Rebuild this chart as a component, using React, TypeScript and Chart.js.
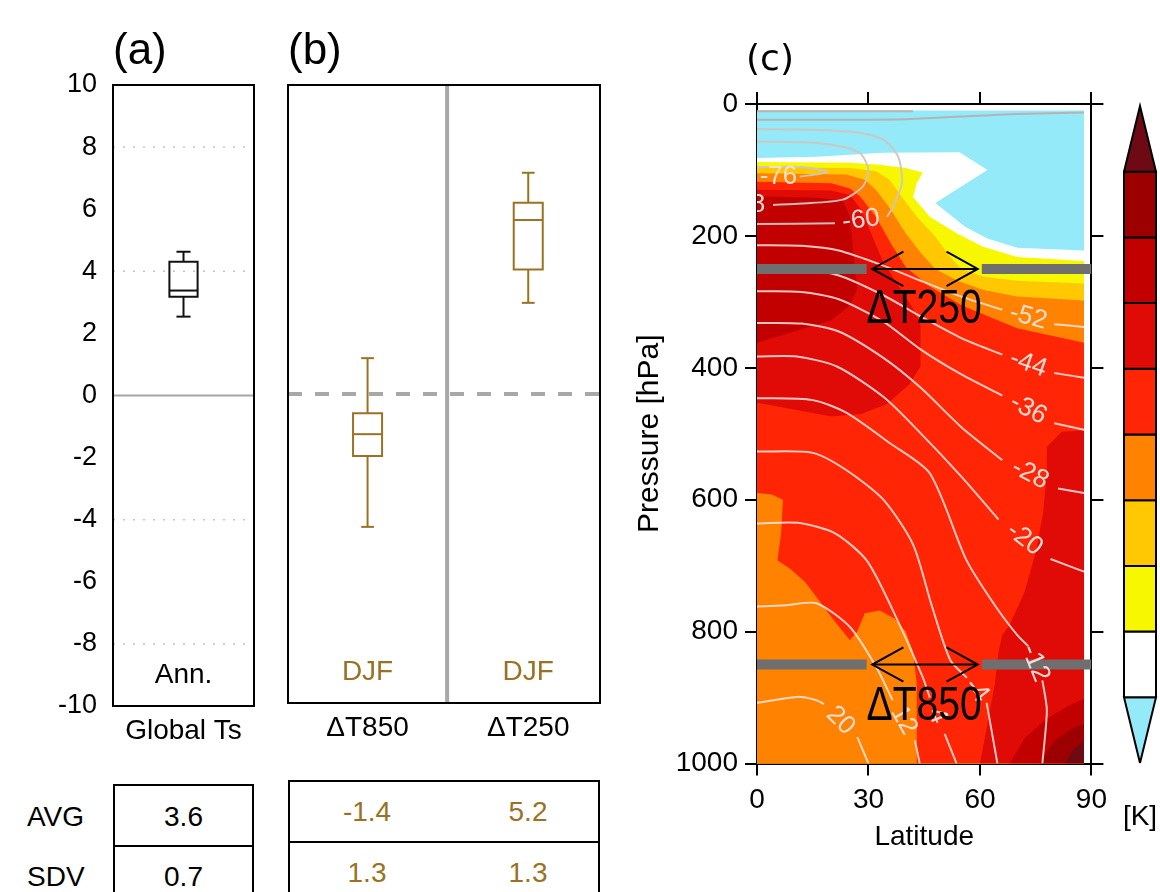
import React, { useEffect, useRef } from "react";
import { Chart, registerables } from "chart.js";

Chart.register(...registerables);

const SANS = "'Liberation Sans', Arial, Helvetica, sans-serif";
const ROUND = "'DejaVu Sans', 'Liberation Sans', sans-serif";
const BROWN = "#9a7224";

/* ---------------- Panel (a) ---------------- */
const panelACategories = ["Global Ts"];
const panelASeason = ["Ann."];
const panelAPositions = [0.5];
const panelAMin = [2.54];
const panelAQ1 = [3.18];
const panelAMedian = [3.38];
const panelAQ3 = [4.31];
const panelAMax = [4.63];
const panelADottedLevels = [8, 4, -4, -8];
const panelAZeroLevels = [0];

/* ---------------- Panel (b) ---------------- */
const panelBCategories = ["ΔT850", "ΔT250"];
const panelBSeason = ["DJF", "DJF"];
const panelBPositions = [0.51, 1.54];
const panelBDivider = [1.02];
const panelBMin = [-4.3, 2.95];
const panelBQ1 = [-2.01, 4.03];
const panelBMedian = [-1.3, 5.63];
const panelBQ3 = [-0.62, 6.19];
const panelBMax = [1.16, 7.16];
const panelBZeroLevels = [0];

const valueMin = -10;
const valueMax = 10;
const valueStep = 2;
const seasonLabelValue = -9;

/* ---------------- Tables ---------------- */
const tableRowNames = ["AVG", "SDV"];
const tableAAvg = ["3.6"];
const tableASdv = ["0.7"];
const tableBAvg = ["-1.4", "5.2"];
const tableBSdv = ["1.3", "1.3"];

/* ---------------- Panel (c): latitude-pressure section ---------------- */
const latTicksStep = 30;
const latMin = 0;
const latMax = 90;
const pressureMin = 0;
const pressureMax = 1000;
const pressureStep = 200;

// colour levels (bottom of colour bar to top)
const levelColors = [
  "#94eaf8",
  "#ffffff",
  "#f7f700",
  "#ffc800",
  "#ff8200",
  "#ff2505",
  "#e00a06",
  "#c20000",
  "#9c0000",
  "#6e0a14",
];

// filled regions, [lat, p]
const regionDomain = [[0, 10], [88, 10], [88, 1000], [0, 1000]];
const cyanBottom = [[0, 82], [16, 80], [34, 74], [54.5, 73], [62, 100], [48, 150], [56, 186], [62, 204], [70, 218], [88, 222]];
const yellowTop = [[0, 88], [25, 89], [33, 92], [40, 97], [44.6, 104], [43, 120], [42, 141], [46.5, 171], [53.7, 196], [60.7, 216], [70, 232], [88, 238]];
const goldTop = [[0, 96], [25, 97], [32, 102], [35.7, 115], [39, 141], [43, 171], [48, 201], [52, 232], [55, 250], [61, 262], [70, 268], [88, 272]];
const orangeTop = [[0, 105], [24, 107], [29, 115], [32, 130], [36, 160], [40, 196], [44, 225], [48, 250], [54, 268], [61, 282], [70, 292], [88, 298]];
const redTop = [[0, 118], [20, 120], [25, 128], [27.7, 140], [32, 171], [36, 211], [40, 247], [46, 275], [55, 305], [70, 340], [88, 362]];
const warmCoreOuter = [[0, 130], [20, 131], [25, 138], [28, 160], [31, 200], [34, 240], [38, 275], [42, 310], [44, 335], [44, 370], [44, 398], [41, 425], [35, 455], [28, 470], [20, 474], [6, 459], [0, 453]];
const warmCoreInner = [[0, 140], [16, 142], [23, 146], [25, 170], [26, 230], [27, 280], [25, 305], [20, 328], [10, 345], [0, 362]];
const polarWarm = [[88, 495], [82, 497], [78, 520], [78, 560], [77, 620], [75, 680], [72, 740], [68, 790], [66, 805], [65, 830], [64, 880], [62, 940], [60, 1000], [88, 1000]];
const polarWarm2 = [[68, 1000], [72, 962], [78, 932], [84, 912], [88, 902], [88, 1000]];
const polarWarm3 = [[76, 1000], [80, 966], [85, 946], [88, 940], [88, 1000]];
const polarWarm4 = [[83, 1000], [85, 980], [88, 966], [88, 1000]];
const lowOrange = [[0, 590], [4, 592], [7, 600], [6.5, 650], [5.5, 692], [9, 705], [13, 725], [17, 755], [21, 785], [25, 813], [27, 800], [29, 772], [33, 768], [37, 780], [40, 800], [42, 830], [43, 880], [43, 1000], [0, 1000]];

// isotherms [lat, p]; null marks the gap where the label sits
const isoTopA = [[0, 11], [42, 11]];
const isoTopB = [[0, 24], [20, 24], [40, 23], [55, 19], [70, 15], [88, 13]];
const isoM76 = [[0, 96], [8, 95], [13, 96], [19, 103], [13, 109], [11.5, 110], null, [0, 110.5]];
const isoM68 = [[0, 57], [16, 59], [24, 66], [28, 76], [30, 100], [28.5, 125], [23, 145], [12, 151], [4.3, 153], null, [-10, 153]];
const isoM60 = [[0, 38], [20, 40], [28, 44], [34, 54], [38, 80], [39, 120], [36.6, 156], [35, 171], null, [21, 181], [0, 182]];
const isoM52 = [[0, 214], [12, 215], [22, 222], [34, 245], [44, 268], [55, 292], [66, 312], null, [80, 334], [88, 338]];
const isoM44 = [[0, 250], [12, 251], [22, 260], [34, 290], [44, 322], [55, 355], [66, 380], null, [80, 408], [88, 415]];
const isoM36 = [[0, 284], [12, 285], [22, 296], [34, 330], [44, 372], [55, 410], [66, 442], null, [80, 484], [88, 494]];
const isoM28 = [[0, 332], [12, 333], [22, 345], [34, 385], [44, 430], [55, 490], [66, 540], null, [81, 583], [88, 590]];
const isoM20 = [[0, 383], [10.7, 383], [21.5, 398], [34, 444], [44, 499], [55, 565], [65, 630], null, [79, 690], [88, 709]];
const isoM12 = [[0, 446], [15, 449], [24, 468], [35.7, 514], [46.5, 560], [56.4, 692], [64, 760], [70, 805], [73, 822], null, [76.8, 874], [78, 919], [76.8, 1000]];
const isoM4 = [[0, 527], [15, 529], [24, 555], [34, 600], [42, 668], [47, 760], [52, 843], [56.5, 870], null, [61.8, 908], [64.7, 1000]];
const isoP4 = [[0, 636], [11, 635], [21, 651], [29.5, 692], [36.5, 767], [44.6, 869], [46.5, 900], null, [50.5, 955], [53.7, 1000]];
const isoP12 = [[0, 762], [8, 760], [16, 757], [25, 793], [32, 853], [36.5, 904], null, [42.5, 965], [43.8, 1000]];
const isoP20 = [[0, 908], [10.7, 899], [16, 904], [18, 910], null, [27, 960], [30, 1000]];

const isoUpperLines = [isoTopA, isoTopB];
const isoLoopLines = [isoM76, isoM68, isoM60];
const isoLoopLabels = ["-76", "-68", "-60"];
const isoMainLines = [isoM52, isoM44, isoM36, isoM28, isoM20, isoM12, isoM4, isoP4, isoP12, isoP20];
const isoMainLabels = ["-52", "-44", "-36", "-28", "-20", "-12", "-4", "4", "12", "20"];

// analysis levels
const deltaLevels = [250, 850];
const deltaNames = ["ΔT250", "ΔT850"];
const deltaNameP = [312, 914];
const deltaNameLat = [45, 45];
const barSpans = [[0, 29.5], [60.5, 90]];
const arrowSpan = [31, 59.4];
const arrowHead = [8.4, 26];

/* ---------------- helpers ---------------- */
const toPts = (arr: any[]) =>
  arr.map((p: any, i: number) => (p ? { x: p[0], y: p[1] } : { x: arr[i - 1][0], y: null }));

const layered = (ds: any[]) => ds.map((d, i) => ({ ...d, order: ds.length - i }));

function boxDatasets(pos: number, half: number, cap: number, lo: number, q1: number, med: number, q3: number, hi: number, color: string) {
  const base = { borderColor: color, borderWidth: 2, pointRadius: 0, fill: false, borderJoinStyle: "miter", borderCapStyle: "butt" };
  return [
    { ...base, borderCapStyle: "square", data: [{ x: pos - half, y: q1 }, { x: pos + half, y: q1 }, { x: pos + half, y: q3 }, { x: pos - half, y: q3 }, { x: pos - half, y: q1 }] },
    { ...base, data: [{ x: pos - half, y: med }, { x: pos + half, y: med }] },
    { ...base, data: [{ x: pos, y: q3 }, { x: pos, y: hi }] },
    { ...base, data: [{ x: pos - cap, y: hi }, { x: pos + cap, y: hi }] },
    { ...base, data: [{ x: pos, y: q1 }, { x: pos, y: lo }] },
    { ...base, data: [{ x: pos - cap, y: lo }, { x: pos + cap, y: lo }] },
  ];
}

const framePlugin = {
  id: "frame",
  afterDatasetsDraw(chart: any) {
    const { ctx, chartArea: a } = chart;
    ctx.save();
    ctx.strokeStyle = "#000";
    ctx.lineWidth = 2;
    ctx.strokeRect(a.left, a.top, a.right - a.left, a.bottom - a.top);
    ctx.restore();
  },
};

function textPlugin(items: any[]) {
  return {
    id: "texts",
    afterDraw(chart: any) {
      const ctx = chart.ctx;
      for (const it of items) {
        const x = it.px !== undefined ? it.px : chart.scales.x.getPixelForValue(it.x);
        const y = it.py !== undefined ? it.py : chart.scales.y.getPixelForValue(it.y);
        ctx.save();
        ctx.font = it.font;
        ctx.fillStyle = it.color || "#000";
        ctx.textAlign = it.align || "center";
        ctx.textBaseline = it.baseline || "middle";
        ctx.translate(x, y);
        if (it.scaleX) ctx.scale(it.scaleX, 1);
        ctx.fillText(it.text, 0, 0);
        ctx.restore();
      }
    },
  };
}

function isoLabelPlugin(lines: { raw: any[]; text: string }[]) {
  return {
    id: "isoLabels",
    afterDatasetsDraw(chart: any) {
      const { ctx, chartArea: a } = chart;
      const xs = chart.scales.x;
      const ys = chart.scales.y;
      ctx.save();
      ctx.beginPath();
      ctx.rect(a.left, a.top, a.right - a.left, a.bottom - a.top);
      ctx.clip();
      ctx.font = `26px ${SANS}`;
      ctx.fillStyle = "#f3ddd6";
      ctx.textAlign = "center";
      ctx.textBaseline = "middle";
      for (const line of lines) {
        const r = line.raw;
        for (let i = 1; i < r.length - 1; i++) {
          if (r[i] !== null) continue;
          const p0 = r[i - 1];
          const p1 = r[i + 1];
          const x0 = xs.getPixelForValue(p0[0]);
          const y0 = ys.getPixelForValue(p0[1]);
          const x1 = xs.getPixelForValue(p1[0]);
          const y1 = ys.getPixelForValue(p1[1]);
          let ang = Math.atan2(y1 - y0, x1 - x0);
          if (ang > Math.PI / 2) ang -= Math.PI;
          if (ang < -Math.PI / 2) ang += Math.PI;
          ctx.save();
          ctx.translate((x0 + x1) / 2, (y0 + y1) / 2);
          ctx.rotate(ang);
          ctx.fillText(line.text, 0, 0);
          ctx.restore();
        }
      }
      ctx.restore();
    },
  };
}

const baseOptions = {
  animation: false,
  responsive: false,
  events: [],
  plugins: { legend: { display: false }, tooltip: { enabled: false } },
  elements: { point: { radius: 0, hoverRadius: 0 }, line: { tension: 0 } },
};

/* ---------------- Panel (a) chart ---------------- */
function makePanelA() {
  const ds: any[] = [];
  panelADottedLevels.forEach((v) =>
    ds.push({ data: [{ x: 0, y: v }, { x: 1, y: v }], borderColor: "#c4c4c4", borderWidth: 1.5, borderDash: [2, 8], pointRadius: 0 })
  );
  panelAZeroLevels.forEach((v) =>
    ds.push({ data: [{ x: 0, y: v }, { x: 1, y: v }], borderColor: "#a6a6a6", borderWidth: 2, pointRadius: 0 })
  );
  panelAPositions.forEach((p, i) =>
    ds.push(...boxDatasets(p, 0.1, 0.05, panelAMin[i], panelAQ1[i], panelAMedian[i], panelAQ3[i], panelAMax[i], "#111"))
  );
  const texts: any[] = panelAPositions.map((p, i) => ({ text: panelASeason[i], x: p, y: seasonLabelValue, font: `28px ${SANS}` }));
  texts.push({ text: "(a)", px: 113, py: 64, align: "left", baseline: "alphabetic", font: `44px ${SANS}` });
  return {
    type: "line",
    data: { datasets: layered(ds) },
    options: {
      ...baseOptions,
      layout: { padding: { top: 85, right: 16, bottom: 0, left: 0 } },
      scales: {
        x: {
          type: "linear", min: 0, max: 1,
          grid: { display: false, drawTicks: false }, border: { display: false },
          afterBuildTicks: (s: any) => { s.ticks = panelAPositions.map((v) => ({ value: v })); },
          ticks: { font: { family: SANS, size: 28 }, color: "#000", padding: 8, maxRotation: 0, autoSkip: false, callback: (_v: any, i: number) => panelACategories[i] },
          afterFit: (s: any) => { s.height = 54; },
        },
        y: {
          type: "linear", min: valueMin, max: valueMax,
          grid: { display: false, drawTicks: false }, border: { display: false },
          ticks: { stepSize: valueStep, font: { family: SANS, size: 27 }, color: "#000", padding: 16, callback: (v: any) => String(v) },
          afterFit: (s: any) => { s.width = 113; },
        },
      },
    },
    plugins: [framePlugin, textPlugin(texts)],
  };
}

/* ---------------- Panel (b) chart ---------------- */
function makePanelB() {
  const ds: any[] = [];
  panelBDivider.forEach((v) =>
    ds.push({ data: [{ x: v, y: valueMin }, { x: v, y: valueMax }], borderColor: "#a8a8a8", borderWidth: 4, pointRadius: 0 })
  );
  panelBZeroLevels.forEach((v) =>
    ds.push({ data: [{ x: 0, y: v }, { x: 2, y: v }], borderColor: "#a8a8a8", borderWidth: 4, borderDash: [14, 13], pointRadius: 0 })
  );
  panelBPositions.forEach((p, i) =>
    ds.push(...boxDatasets(p, 0.093, 0.041, panelBMin[i], panelBQ1[i], panelBMedian[i], panelBQ3[i], panelBMax[i], BROWN))
  );
  const texts: any[] = panelBPositions.map((p, i) => ({ text: panelBSeason[i], x: p, y: seasonLabelValue, font: `28px ${SANS}`, color: BROWN }));
  texts.push({ text: "(b)", px: 18, py: 64, align: "left", baseline: "alphabetic", font: `44px ${SANS}` });
  return {
    type: "line",
    data: { datasets: layered(ds) },
    options: {
      ...baseOptions,
      layout: { padding: { top: 85, right: 20, bottom: 0, left: 18 } },
      scales: {
        x: {
          type: "linear", min: 0, max: 2,
          grid: { display: false, drawTicks: false }, border: { display: false },
          afterBuildTicks: (s: any) => { s.ticks = panelBPositions.map((v) => ({ value: v })); },
          ticks: { font: { family: SANS, size: 28 }, color: "#000", padding: 8, maxRotation: 0, autoSkip: false, callback: (_v: any, i: number) => panelBCategories[i] },
          afterFit: (s: any) => { s.height = 57; },
        },
        y: { type: "linear", min: valueMin, max: valueMax, display: false },
      },
    },
    plugins: [framePlugin, textPlugin(texts)],
  };
}

/* ---------------- Panel (c) chart ---------------- */
function makePanelC() {
  const ds: any[] = [];
  const region = (poly: any[], color: string) =>
    ds.push({ data: toPts(poly), fill: "shape", backgroundColor: color, borderWidth: 0, pointRadius: 0 });
  const below = (edge: any[]) => [...edge, [88, 1000], [0, 1000]];

  region(regionDomain, levelColors[0]);
  region(below(cyanBottom), levelColors[1]);
  region(below(yellowTop), levelColors[2]);
  region(below(goldTop), levelColors[3]);
  region(below(orangeTop), levelColors[4]);
  region(below(redTop), levelColors[5]);
  region(warmCoreOuter, levelColors[6]);
  region(warmCoreInner, levelColors[7]);
  region(polarWarm, levelColors[6]);
  region(polarWarm2, levelColors[7]);
  region(polarWarm3, levelColors[8]);
  region(polarWarm4, levelColors[9]);
  region(lowOrange, levelColors[4]);

  const iso = { borderWidth: 2, pointRadius: 0, fill: false, tension: 0.25 };
  isoUpperLines.forEach((l) => ds.push({ ...iso, data: toPts(l), borderColor: "#b4b4b4" }));
  isoLoopLines.forEach((l) => ds.push({ ...iso, data: toPts(l), borderColor: "rgba(205,198,192,0.95)" }));
  isoMainLines.forEach((l) => ds.push({ ...iso, data: toPts(l), borderColor: "rgba(252,232,226,0.85)" }));

  deltaLevels.forEach((lvl) => {
    barSpans.forEach((s) =>
      ds.push({ data: [{ x: s[0], y: lvl }, { x: s[1], y: lvl }], borderColor: "#6f6f6f", borderWidth: 10, borderCapStyle: "butt", pointRadius: 0 })
    );
    const arrowStyle = { borderColor: "#000", borderWidth: 2, pointRadius: 0, borderJoinStyle: "miter" };
    ds.push({ ...arrowStyle, data: [{ x: arrowSpan[0], y: lvl }, { x: arrowSpan[1], y: lvl }] });
    ds.push({ ...arrowStyle, data: [{ x: arrowSpan[0] + arrowHead[0], y: lvl - arrowHead[1] }, { x: arrowSpan[0], y: lvl }, { x: arrowSpan[0] + arrowHead[0], y: lvl + arrowHead[1] }] });
    ds.push({ ...arrowStyle, data: [{ x: arrowSpan[1] - arrowHead[0], y: lvl - arrowHead[1] }, { x: arrowSpan[1], y: lvl }, { x: arrowSpan[1] - arrowHead[0], y: lvl + arrowHead[1] }] });
  });

  const labelLines = [
    ...isoLoopLines.map((raw, i) => ({ raw, text: isoLoopLabels[i] })),
    ...isoMainLines.map((raw, i) => ({ raw, text: isoMainLabels[i] })),
  ];
  const texts: any[] = deltaNames.map((t, i) => ({ text: t, x: deltaNameLat[i], y: deltaNameP[i], font: `48px ${SANS}`, scaleX: 0.815 }));
  texts.push({ text: "(c)", px: 150, py: 70, align: "center", baseline: "alphabetic", font: `36px ${ROUND}` });

  const grid = { display: true, drawOnChartArea: false, drawTicks: true, tickLength: 12, color: "#000", lineWidth: 2 };
  const border = { display: true, color: "#000", width: 2 };
  return {
    type: "line",
    data: { datasets: layered(ds) },
    options: {
      ...baseOptions,
      layout: { padding: { top: 92, right: 11, bottom: 28.5, left: 0 } },
      scales: {
        x: {
          type: "linear", position: "bottom", min: latMin, max: latMax,
          ticks: { stepSize: latTicksStep, font: { family: SANS, size: 28 }, color: "#000", padding: 8, maxRotation: 0, callback: (v: any) => String(v) },
          grid, border,
          title: { display: true, text: "Latitude", font: { family: SANS, size: 28 }, color: "#000", padding: { top: 0, bottom: 9 } },
          afterFit: (s: any) => { s.height = 100; },
        },
        y: {
          type: "linear", position: "left", reverse: true, min: pressureMin, max: pressureMax,
          ticks: { stepSize: pressureStep, font: { family: SANS, size: 28 }, color: "#000", padding: 7, callback: (v: any) => String(v) },
          grid, border,
          title: { display: true, text: "Pressure [hPa]", font: { family: SANS, size: 30 }, color: "#000", padding: { top: 12, bottom: 0 } },
          afterFit: (s: any) => { s.width = 137; },
        },
        x2: {
          type: "linear", position: "top", min: latMin, max: latMax,
          ticks: { stepSize: latTicksStep, display: false }, grid, border,
          afterFit: (s: any) => { s.height = 12; },
        },
        y2: {
          type: "linear", position: "right", reverse: true, min: pressureMin, max: pressureMax,
          ticks: { stepSize: pressureStep, display: false }, grid, border,
          afterFit: (s: any) => { s.width = 12; },
        },
      },
    },
    plugins: [isoLabelPlugin(labelLines), textPlugin(texts)],
  };
}

/* ---------------- Colour bar chart ---------------- */
function makeColorbar() {
  const n = levelColors.length;
  const ds = levelColors.map((c, i) => {
    let pts: number[][];
    if (i === 0) pts = [[0.5, 0], [1, 1], [0, 1], [0.5, 0]];
    else if (i === n - 1) pts = [[0, i], [1, i], [0.5, i + 1], [0, i]];
    else pts = [[0, i], [1, i], [1, i + 1], [0, i + 1], [0, i]];
    return { data: toPts(pts), fill: "shape", backgroundColor: c, borderColor: "#000", borderWidth: 2, borderJoinStyle: "miter", pointRadius: 0, clip: false };
  });
  return {
    type: "line",
    data: { datasets: layered(ds) },
    options: {
      ...baseOptions,
      layout: { padding: { top: 106, right: 4, bottom: 129, left: 9 } },
      scales: {
        x: { type: "linear", min: 0, max: 1, display: false },
        y: { type: "linear", min: 0, max: n, display: false },
      },
    },
    plugins: [],
  };
}

/* ---------------- React ---------------- */
function ChartCanvas(props: { left: number; top: number; width: number; height: number; make: () => any }) {
  const ref = useRef<HTMLCanvasElement | null>(null);
  useEffect(() => {
    if (!ref.current) return;
    const chart = new Chart(ref.current, props.make());
    return () => chart.destroy();
  }, []);
  return (
    <canvas
      ref={ref}
      width={props.width}
      height={props.height}
      style={{ position: "absolute", left: props.left, top: props.top, width: props.width, height: props.height, display: "block" }}
    />
  );
}

function Txt(props: { text: string; x: number; y: number; color?: string; align?: "left" | "center" }) {
  const center = props.align !== "left";
  return (
    <div
      style={{
        position: "absolute",
        left: props.x,
        top: props.y,
        transform: center ? "translate(-50%, -50%)" : "translate(0, -50%)",
        fontFamily: SANS,
        fontSize: 28,
        lineHeight: 1,
        color: props.color || "#000",
        whiteSpace: "nowrap",
      }}
    >
      {props.text}
    </div>
  );
}

export default function App() {
  const box = (left: number, top: number, width: number, divider: number) => (
    <>
      <div style={{ position: "absolute", left, top, width, height: 160, border: "2px solid #000", boxSizing: "border-box" }} />
      <div style={{ position: "absolute", left, top: divider, width, height: 2, background: "#000" }} />
    </>
  );
  return (
    <div style={{ position: "absolute", left: 0, top: 0, width: 1160, height: 892, overflow: "hidden", background: "#fff" }}>
      <ChartCanvas left={0} top={0} width={270} height={760} make={makePanelA} />
      <ChartCanvas left={270} top={0} width={350} height={760} make={makePanelB} />
      <ChartCanvas left={620} top={0} width={495} height={892} make={makePanelC} />
      <ChartCanvas left={1115} top={0} width={45} height={892} make={makeColorbar} />

      {box(113, 784, 141, 845)}
      {box(288, 780, 312, 841)}
      <Txt text={tableRowNames[0]} x={27} y={817} align="left" />
      <Txt text={tableRowNames[1]} x={27} y={877} align="left" />
      {tableAAvg.map((t, i) => <Txt key={"aa" + i} text={t} x={183.5} y={817} />)}
      {tableASdv.map((t, i) => <Txt key={"as" + i} text={t} x={183.5} y={877} />)}
      {tableBAvg.map((t, i) => <Txt key={"ba" + i} text={t} x={[367, 528][i]} y={812} color={BROWN} />)}
      {tableBSdv.map((t, i) => <Txt key={"bs" + i} text={t} x={[367, 528][i]} y={873} color={BROWN} />)}
      <Txt text="[K]" x={1140} y={816} />
    </div>
  );
}
